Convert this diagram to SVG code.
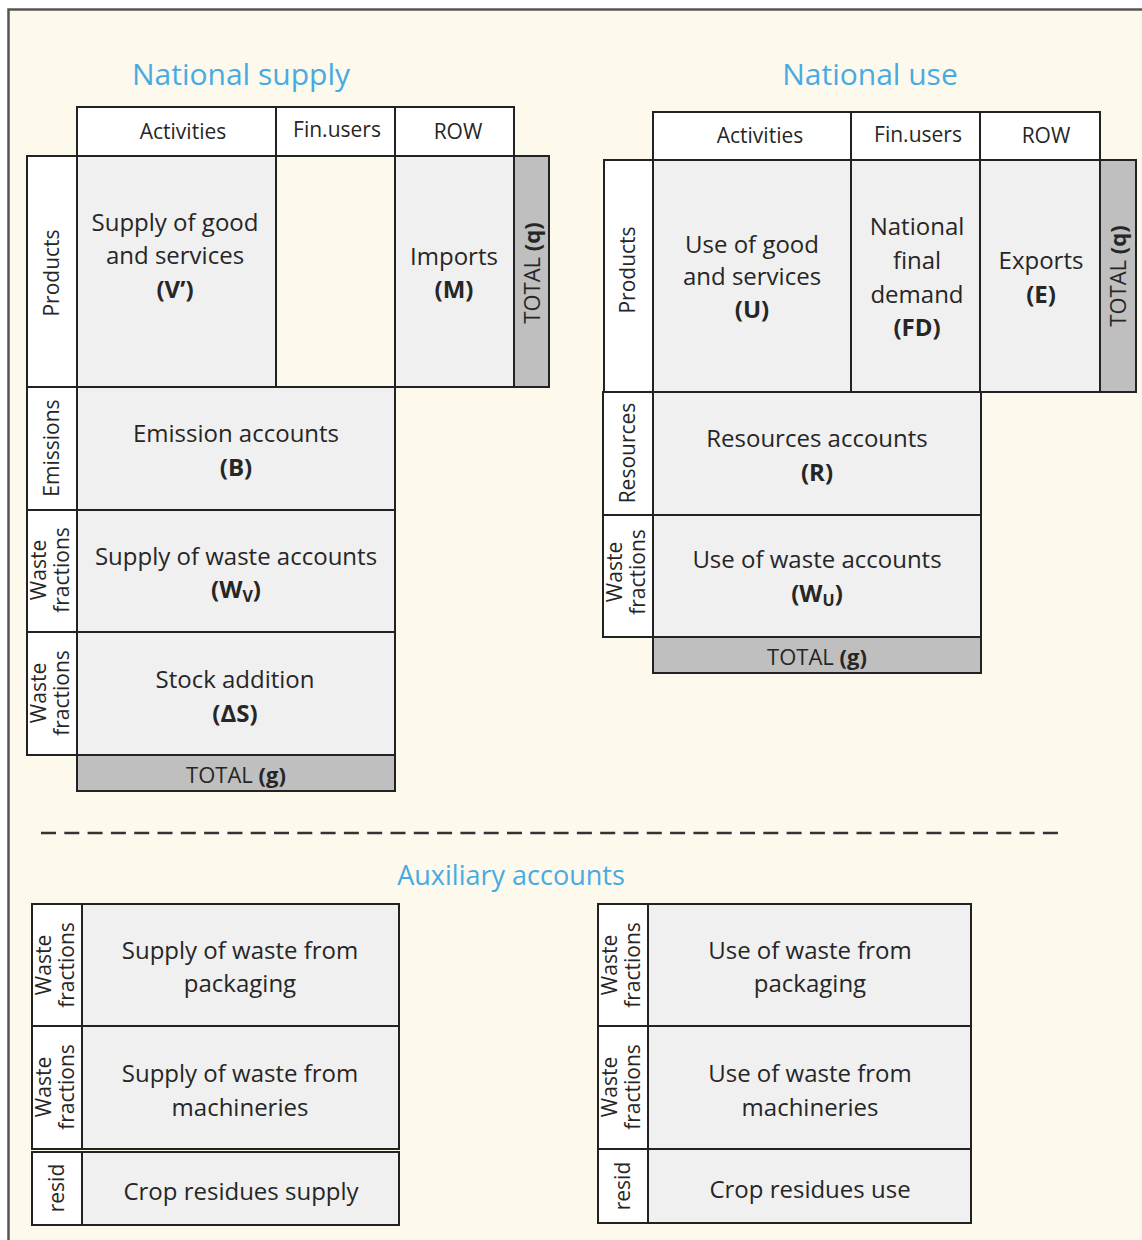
<svg xmlns="http://www.w3.org/2000/svg" width="1142" height="1240" viewBox="0 0 1142 1240">
<defs>
<style>
.frame{fill:#FDF9EC;stroke:#555;stroke-width:2.5}
.hd{fill:#FFFFFF;stroke:#222;stroke-width:2}
.lb{fill:#FFFFFF;stroke:#222;stroke-width:2}
.cl{fill:#F0F0F0;stroke:#222;stroke-width:2}
.em{fill:none;stroke:#222;stroke-width:2}
.tt{fill:#BFBFBF;stroke:#222;stroke-width:2}
text{font-family:"Open Sans","Liberation Sans",sans-serif;fill:#262626;text-anchor:middle}
.title{fill:#47ABE2;font-size:30px}
.aux{fill:#47ABE2;font-size:27px}
.h{font-size:21px}
.c{font-size:24px}
.v{font-size:21px}
.vw{font-size:21px}
.t{font-size:22px}
.b{font-weight:bold}
.sub{font-size:16px}
.dash{stroke:#333;stroke-width:2.5;stroke-dasharray:15 8.3;fill:none}
</style>
</defs>
<rect x="0" y="0" width="1142" height="1240" fill="#FFFFFF"/>
<rect class="frame" x="8.5" y="9.5" width="1160" height="1260"/>

<g id="titles">
<text class="title" x="241" y="85">National supply</text>
<text class="title" x="870" y="85">National use</text>
<text class="aux" x="511" y="885">Auxiliary accounts</text>
</g>

<g id="connectors">
<line class="dash" x1="41" y1="833" x2="1066" y2="833"/>
</g>

<!-- National supply table -->
<g id="supply-headers">
<rect class="hd" x="77" y="107" width="199" height="49"/>
<rect class="hd" x="276" y="107" width="119" height="49"/>
<rect class="hd" x="395" y="107" width="119" height="49"/>
<text class="h" x="183" y="139">Activities</text>
<text class="h" x="337" y="137">Fin.users</text>
<text class="h" x="458" y="139">ROW</text>
</g>
<g id="supply-products-label">
<rect class="lb" x="27" y="156" width="50" height="231"/>
<text class="v" transform="translate(59,273) rotate(-90)">Products</text>
</g>
<g id="supply-V">
<rect class="cl" x="77" y="156" width="199" height="231"/>
<text class="c" x="175" y="231">Supply of good</text>
<text class="c" x="175" y="264">and services</text>
<text class="c b" x="175" y="298">(V’)</text>
</g>
<g id="supply-finusers">
<rect class="em" x="276" y="156" width="119" height="231"/>
</g>
<g id="supply-M">
<rect class="cl" x="395" y="156" width="119" height="231"/>
<text class="c" x="454" y="265">Imports</text>
<text class="c b" x="454" y="298">(M)</text>
</g>
<g id="supply-total-q">
<rect class="tt" x="514" y="156" width="35" height="231"/>
<text class="t" transform="translate(540,273) rotate(-90)">TOTAL <tspan class="b">(q)</tspan></text>
</g>
<g id="supply-B">
<rect class="lb" x="27" y="387" width="50" height="123"/>
<text class="v" transform="translate(59,448) rotate(-90)">Emissions</text>
<rect class="cl" x="77" y="387" width="318" height="123"/>
<text class="c" x="236" y="442">Emission accounts</text>
<text class="c b" x="236" y="476">(B)</text>
</g>
<g id="supply-WV">
<rect class="lb" x="27" y="510" width="50" height="122"/>
<text class="vw" transform="translate(52,570) rotate(-90)"><tspan x="0" y="-6">Waste</tspan><tspan x="0" y="17">fractions</tspan></text>
<rect class="cl" x="77" y="510" width="318" height="122"/>
<text class="c" x="236" y="565">Supply of waste accounts</text>
<text class="c b" x="236" y="598">(W<tspan class="sub" dy="4">V</tspan><tspan dy="-4">)</tspan></text>
</g>
<g id="supply-dS">
<rect class="lb" x="27" y="632" width="50" height="123"/>
<text class="vw" transform="translate(52,693) rotate(-90)"><tspan x="0" y="-6">Waste</tspan><tspan x="0" y="17">fractions</tspan></text>
<rect class="cl" x="77" y="632" width="318" height="123"/>
<text class="c" x="235" y="688">Stock addition</text>
<text class="c b" x="235" y="722">(ΔS)</text>
</g>
<g id="supply-total-g">
<rect class="tt" x="77" y="755" width="318" height="36"/>
<text class="t" x="236" y="783">TOTAL <tspan class="b">(g)</tspan></text>
</g>

<!-- National use table -->
<g id="use-headers">
<rect class="hd" x="653" y="112" width="198" height="48"/>
<rect class="hd" x="851" y="112" width="129" height="48"/>
<rect class="hd" x="980" y="112" width="120" height="48"/>
<text class="h" x="760" y="143">Activities</text>
<text class="h" x="918" y="142">Fin.users</text>
<text class="h" x="1046" y="143">ROW</text>
</g>
<g id="use-products-label">
<rect class="lb" x="604" y="160" width="49" height="232"/>
<text class="v" transform="translate(635,270) rotate(-90)">Products</text>
</g>
<g id="use-U">
<rect class="cl" x="653" y="160" width="198" height="232"/>
<text class="c" x="752" y="253">Use of good</text>
<text class="c" x="752" y="285">and services</text>
<text class="c b" x="752" y="318">(U)</text>
</g>
<g id="use-FD">
<rect class="cl" x="851" y="160" width="129" height="232"/>
<text class="c" x="917" y="235">National</text>
<text class="c" x="917" y="269">final</text>
<text class="c" x="917" y="303">demand</text>
<text class="c b" x="917" y="336">(FD)</text>
</g>
<g id="use-E">
<rect class="cl" x="980" y="160" width="120" height="232"/>
<text class="c" x="1041" y="269">Exports</text>
<text class="c b" x="1041" y="303">(E)</text>
</g>
<g id="use-total-q">
<rect class="tt" x="1100" y="160" width="36" height="232"/>
<text class="t" transform="translate(1126,276) rotate(-90)">TOTAL <tspan class="b">(q)</tspan></text>
</g>
<g id="use-R">
<rect class="lb" x="603" y="392" width="50" height="123"/>
<text class="v" transform="translate(635,453) rotate(-90)">Resources</text>
<rect class="cl" x="653" y="392" width="328" height="123"/>
<text class="c" x="817" y="447">Resources accounts</text>
<text class="c b" x="817" y="481">(R)</text>
</g>
<g id="use-WU">
<rect class="lb" x="603" y="515" width="50" height="122"/>
<text class="vw" transform="translate(628,572) rotate(-90)"><tspan x="0" y="-6">Waste</tspan><tspan x="0" y="17">fractions</tspan></text>
<rect class="cl" x="653" y="515" width="328" height="122"/>
<text class="c" x="817" y="568">Use of waste accounts</text>
<text class="c b" x="817" y="602">(W<tspan class="sub" dy="4">U</tspan><tspan dy="-4">)</tspan></text>
</g>
<g id="use-total-g">
<rect class="tt" x="653" y="637" width="328" height="36"/>
<text class="t" x="817" y="665">TOTAL <tspan class="b">(g)</tspan></text>
</g>

<!-- Auxiliary accounts: supply -->
<g id="aux-supply-packaging">
<rect class="lb" x="32" y="904" width="50" height="122"/>
<text class="vw" transform="translate(57,965) rotate(-90)"><tspan x="0" y="-6">Waste</tspan><tspan x="0" y="17">fractions</tspan></text>
<rect class="cl" x="82" y="904" width="317" height="122"/>
<text class="c" x="240" y="959">Supply of waste from</text>
<text class="c" x="240" y="992">packaging</text>
</g>
<g id="aux-supply-machineries">
<rect class="lb" x="32" y="1026" width="50" height="123"/>
<text class="vw" transform="translate(57,1087) rotate(-90)"><tspan x="0" y="-6">Waste</tspan><tspan x="0" y="17">fractions</tspan></text>
<rect class="cl" x="82" y="1026" width="317" height="123"/>
<text class="c" x="240" y="1082">Supply of waste from</text>
<text class="c" x="240" y="1116">machineries</text>
</g>
<g id="aux-supply-crop">
<rect class="lb" x="32" y="1152" width="50" height="73"/>
<text class="v" transform="translate(64,1188) rotate(-90)">resid</text>
<rect class="cl" x="82" y="1152" width="317" height="73"/>
<text class="c" x="241" y="1200">Crop residues supply</text>
</g>

<!-- Auxiliary accounts: use -->
<g id="aux-use-packaging">
<rect class="lb" x="598" y="904" width="50" height="122"/>
<text class="vw" transform="translate(623,965) rotate(-90)"><tspan x="0" y="-6">Waste</tspan><tspan x="0" y="17">fractions</tspan></text>
<rect class="cl" x="648" y="904" width="323" height="122"/>
<text class="c" x="810" y="959">Use of waste from</text>
<text class="c" x="810" y="992">packaging</text>
</g>
<g id="aux-use-machineries">
<rect class="lb" x="598" y="1026" width="50" height="123"/>
<text class="vw" transform="translate(623,1087) rotate(-90)"><tspan x="0" y="-6">Waste</tspan><tspan x="0" y="17">fractions</tspan></text>
<rect class="cl" x="648" y="1026" width="323" height="123"/>
<text class="c" x="810" y="1082">Use of waste from</text>
<text class="c" x="810" y="1116">machineries</text>
</g>
<g id="aux-use-crop">
<rect class="lb" x="598" y="1149" width="50" height="74"/>
<text class="v" transform="translate(630,1186) rotate(-90)">resid</text>
<rect class="cl" x="648" y="1149" width="323" height="74"/>
<text class="c" x="810" y="1198">Crop residues use</text>
</g>
</svg>
